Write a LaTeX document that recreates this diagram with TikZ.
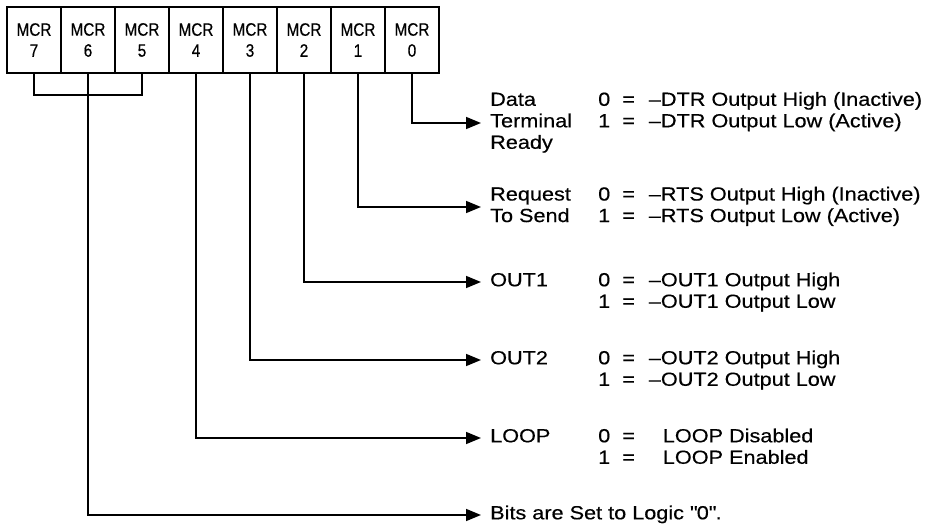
\documentclass[tikz,border=0pt]{standalone}
\usepackage{fontspec}
\setmainfont{Liberation Sans}[FakeStretch=1.14,FakeBold=0.4]
\newfontfamily\cellfont{Liberation Sans}[FakeStretch=0.85,FakeBold=0.4]
\usetikzlibrary{arrows.meta,calc}

\newcommand{\rowfont}{\fontsize{19}{21.5}\selectfont}
% one column of row labels / the 0 = ... 1 = ... pair
\newcommand{\ltab}[1]{\begin{tabular}{@{}l@{}}#1\end{tabular}}
\newcommand{\vtab}[2]{\begin{tabular}{@{}l@{\hspace{12pt}}l@{\hspace{14pt}}l@{}}0&=&#1\\1&=&#2\end{tabular}}

\begin{document}
\begin{tikzpicture}[x=1pt,y=-1pt,
  cell/.style={draw,line width=1.6pt,minimum width=54pt,minimum height=66pt,inner sep=0pt,outer sep=0pt,align=center,font=\cellfont\fontsize{18}{21}\selectfont},
  lbl/.style={anchor=west,inner xsep=9pt,inner ysep=0pt,font=\rowfont},
  vals/.style={anchor=north west,inner sep=0pt,font=\rowfont},
  arr/.style={-{Triangle[length=15pt,width=12pt]},line width=1.6pt}]
\useasboundingbox (0,0) rectangle (927,529);
% register cells
\foreach \b in {7,...,0}
  \node[cell] (bit\b) at ({34+(7-\b)*54},40) {MCR\\\b};
% bit descriptions
\node[lbl] (dtr) at (481,123) {\ltab{Data\\Terminal\\Ready}};
\node[lbl] (rts) at (481,207) {\ltab{Request\\To Send}};
\node[lbl] (out1) at (481,282) {\ltab{OUT1}};
\node[lbl] (out2) at (481,360) {\ltab{OUT2}};
\node[lbl] (loop) at (481,438) {\ltab{LOOP}};
\node[lbl] (zero) at (481,515) {\ltab{Bits are Set to Logic \textquotedbl 0\textquotedbl.}};
\node[vals] (dtrv) at ($(dtr.north west)+(117,0)$) {\vtab{--DTR Output High (Inactive)}{--DTR Output Low (Active)}};
\node[vals] (rtsv) at ($(rts.north west)+(117,0)$) {\vtab{--RTS Output High (Inactive)}{--RTS Output Low (Active)}};
\node[vals] (out1v) at ($(out1.north west)+(117,0)$) {\vtab{--OUT1 Output High}{--OUT1 Output Low}};
\node[vals] (out2v) at ($(out2.north west)+(117,0)$) {\vtab{--OUT2 Output High}{--OUT2 Output Low}};
\node[vals] (loopv) at ($(loop.north west)+(117,0)$) {\vtab{\hspace{14pt}LOOP Disabled}{\hspace{14pt}LOOP Enabled}};
% connectors
\draw[arr] (bit0.south) |- (dtr.west);
\draw[arr] (bit1.south) |- (rts.west);
\draw[arr] (bit2.south) |- (out1.west);
\draw[arr] (bit3.south) |- (out2.west);
\draw[arr] (bit4.south) |- (loop.west);
\draw[line width=1.6pt] (bit7.south) -- ++(0,22) -| (bit5.south);
\draw[arr] (bit6.south) |- (zero.west);
\end{tikzpicture}
\end{document}
